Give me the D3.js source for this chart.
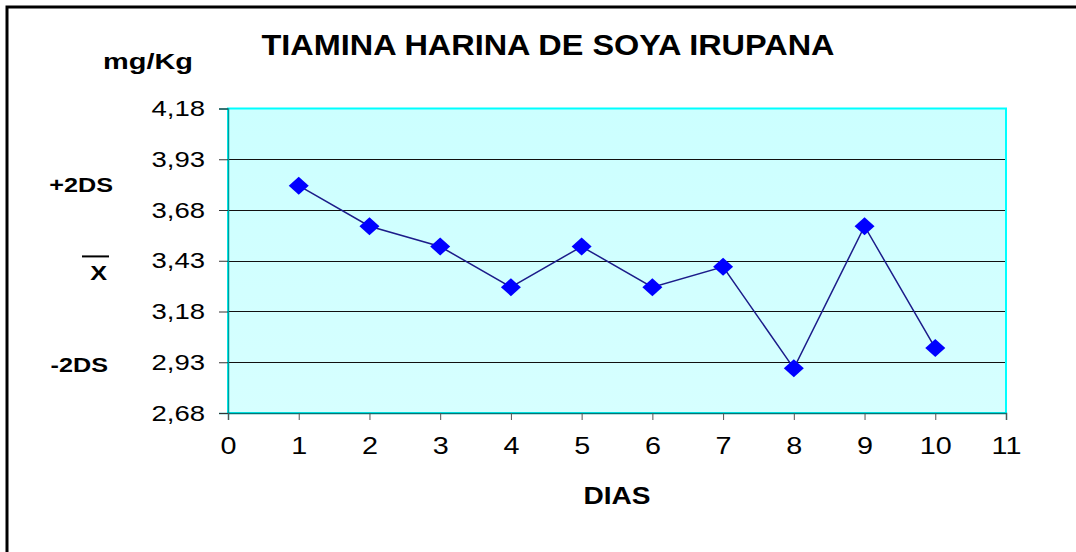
<!DOCTYPE html>
<html>
<head>
<meta charset="utf-8">
<script src="https://cdn.jsdelivr.net/npm/d3@7"></script>
<style>
  body { margin: 0; background: #fff; }
  svg { display: block; font-family: "Liberation Sans", Arial, sans-serif; }
</style>
</head>
<body>
<div id="chart"></div>
<script>
  "use strict";

  /* <!-- Chart Data --> */
  var dias = [1, 2, 3, 4, 5, 6, 7, 8, 9, 10];
  var tiamina = [3.8, 3.6, 3.5, 3.3, 3.5, 3.3, 3.4, 2.9, 3.6, 3.0];
  var yTicks = [2.68, 2.93, 3.18, 3.43, 3.68, 3.93, 4.18];
  var yTickLabels = ["2,68", "2,93", "3,18", "3,43", "3,68", "3,93", "4,18"];
  var xTicks = [0, 1, 2, 3, 4, 5, 6, 7, 8, 9, 10, 11];
  var refNames = ["+2DS", "X", "-2DS"];
  var refValues = [3.81, 3.375, 2.92];

  /* <!-- Layout --> */
  var W = 1076, H = 552,
    plot = { left: 228, right: 1006, top: 108.5, bottom: 413 },
    STRETCH = 1.25;

  var svg = d3.select("#chart").append("svg")
    .attr("width", W).attr("height", H);

  var x = d3.scaleLinear().domain([0, 11]).range([plot.left, plot.right]),
    y = d3.scaleLinear().domain([2.68, 4.18]).range([plot.bottom, plot.top]);

  /* <!-- widen text the way the original picture does --> */
  var _stretch = (sel, k) => sel.each(function() {
    var len = this.getComputedTextLength();
    d3.select(this).attr("textLength", len * k).attr("lengthAdjust", "spacingAndGlyphs");
  });

  /* <!-- Outer frame (runs off the right and bottom edges) --> */
  svg.append("rect")
    .attr("x", 7).attr("y", 7).attr("width", W + 20).attr("height", H + 20)
    .attr("fill", "none").attr("stroke", "#000").attr("stroke-width", 3);

  /* <!-- Plot area --> */
  var grad = svg.append("defs").append("linearGradient")
    .attr("id", "bg").attr("x1", 0).attr("y1", 0).attr("x2", 0).attr("y2", 1);
  grad.append("stop").attr("offset", "0%").attr("stop-color", "#ccffff");
  grad.append("stop").attr("offset", "100%").attr("stop-color", "#d6ffff");

  svg.append("rect")
    .attr("x", plot.left).attr("y", plot.top)
    .attr("width", plot.right - plot.left).attr("height", plot.bottom - plot.top)
    .attr("fill", "url(#bg)").attr("stroke", "#00ffff").attr("stroke-width", 2);

  /* <!-- Gridlines --> */
  svg.append("g").selectAll("line")
    .data(yTicks.slice(1, -1))
    .enter().append("line")
    .attr("x1", plot.left).attr("x2", plot.right - 1)
    .attr("y1", d => Math.round(y(d)) + 0.5).attr("y2", d => Math.round(y(d)) + 0.5)
    .attr("stroke", "#111").attr("stroke-width", 1.2);

  /* <!-- Axes --> */
  var yAxis = svg.append("g")
    .attr("transform", `translate(${plot.left},0)`)
    .call(d3.axisLeft(y).tickValues(yTicks).tickSize(9).tickPadding(14)
      .tickFormat((d, i) => yTickLabels[i]));
  yAxis.select(".domain").attr("stroke", "#009c9c").attr("stroke-width", 1.5);
  yAxis.selectAll(".tick line").attr("stroke", "#333");
  yAxis.selectAll(".tick text").attr("font-size", 22).attr("fill", "#000").attr("font-family", "Liberation Sans, Arial, sans-serif");

  var xAxis = svg.append("g")
    .attr("transform", `translate(0,${plot.bottom})`)
    .call(d3.axisBottom(x).tickValues(xTicks).tickSize(7).tickPadding(18)
      .tickFormat(d3.format("d")));
  xAxis.select(".domain").attr("stroke", "#007777").attr("stroke-width", 1.5);
  xAxis.selectAll(".tick line").attr("stroke", "#555");
  xAxis.selectAll(".tick text").attr("font-size", 23).attr("fill", "#000").attr("font-family", "Liberation Sans, Arial, sans-serif");

  _stretch(yAxis.selectAll(".tick text"), STRETCH);
  _stretch(xAxis.selectAll(".tick text"), STRETCH);

  /* <!-- Series line and markers --> */
  var series = dias.map((d, i) => ({ dia: d, value: tiamina[i] }));

  svg.append("path")
    .datum(series)
    .attr("fill", "none").attr("stroke", "#1c1c8a").attr("stroke-width", 1.5)
    .attr("d", d3.line().x(d => x(d.dia)).y(d => y(d.value)));

  var diamond = {
    draw: (ctx, size) => {
      var w = 10, h = 9;
      ctx.moveTo(0, -h); ctx.lineTo(w, 0); ctx.lineTo(0, h); ctx.lineTo(-w, 0); ctx.closePath();
    }
  };

  svg.append("g").selectAll("path")
    .data(series)
    .enter().append("path")
    .attr("transform", d => `translate(${x(d.dia)},${y(d.value)})`)
    .attr("d", d3.symbol().type(diamond))
    .attr("fill", "#0000ff");

  /* <!-- Titles --> */
  svg.append("text")
    .attr("x", 548).attr("y", 55).attr("text-anchor", "middle")
    .attr("font-size", 29).attr("font-weight", "bold")
    .attr("textLength", 573).attr("lengthAdjust", "spacingAndGlyphs")
    .text("TIAMINA HARINA DE SOYA IRUPANA");

  svg.append("text")
    .attr("x", 148).attr("y", 69).attr("text-anchor", "middle")
    .attr("font-size", 22).attr("font-weight", "bold")
    .attr("textLength", 90).attr("lengthAdjust", "spacingAndGlyphs")
    .text("mg/Kg");

  svg.append("text")
    .attr("x", x(5.5)).attr("y", 504).attr("text-anchor", "middle")
    .attr("font-size", 23).attr("font-weight", "bold")
    .text("DIAS")
    .call(_stretch, 1.22);

  /* <!-- Reference labels on the left --> */
  var refs = svg.append("g").selectAll("text")
    .data(refNames)
    .enter().append("text")
    .attr("x", (d, i) => [113, 107, 108][i])
    .attr("y", (d, i) => y(refValues[i]) + 8)
    .attr("text-anchor", "end")
    .attr("font-size", 21)
    .attr("font-weight", "bold")
    .text(d => d);
  _stretch(refs, 1.2);

  svg.append("line")
    .attr("x1", 82).attr("x2", 109)
    .attr("y1", y(refValues[1]) - 15.5).attr("y2", y(refValues[1]) - 15.5)
    .attr("stroke", "#000").attr("stroke-width", 2);
</script>
</body>
</html>
